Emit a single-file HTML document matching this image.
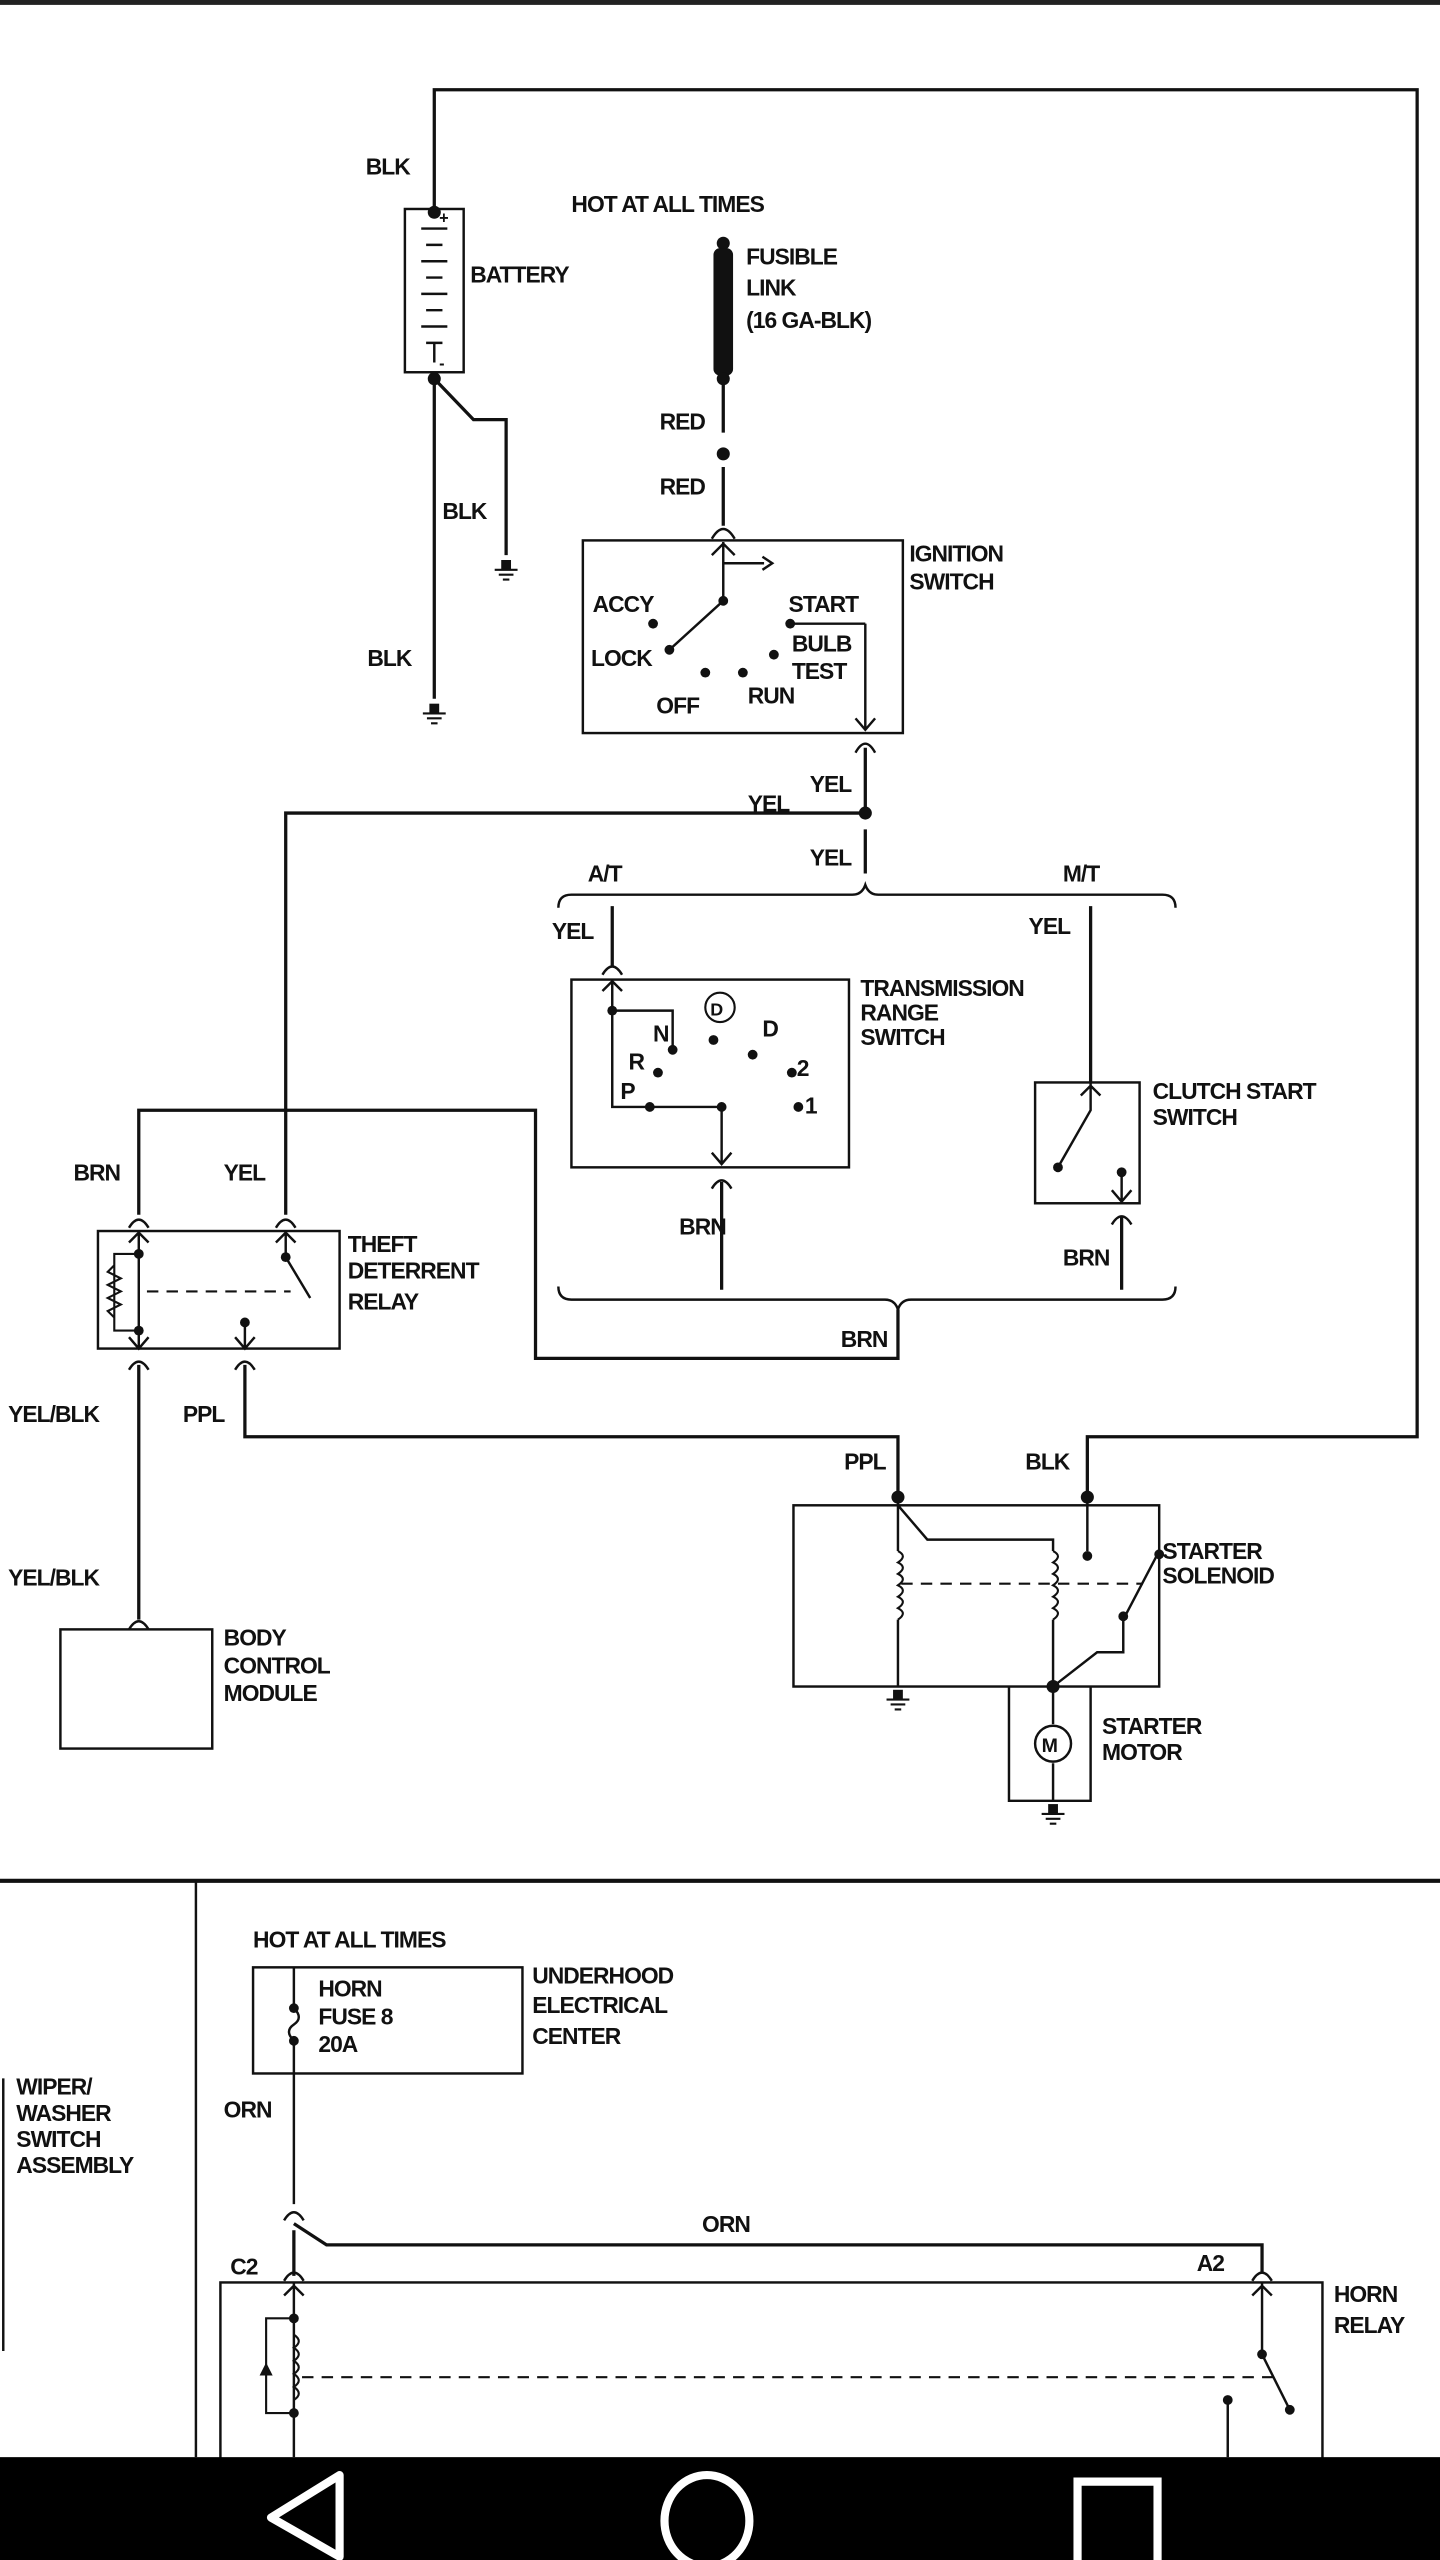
<!DOCTYPE html>
<html><head><meta charset="utf-8"><style>
html,body{margin:0;padding:0;background:#fff;width:1440px;height:2560px;overflow:hidden}
svg{display:block}
text{font-family:"Liberation Sans",sans-serif;font-weight:bold;font-size:14px;fill:#111;letter-spacing:-0.6px}
</style></head><body>
<svg width="1440" height="2560" viewBox="0 0 882 1568" preserveAspectRatio="none" xmlns="http://www.w3.org/2000/svg">
<defs>
<g id="gnd"><rect x="-3" y="-6" width="6" height="6" fill="#111"/><path d="M-7 0H7M-4.5 3H4.5M-2 6H2" stroke="#111" stroke-width="1.3"/></g>
</defs>
<rect x="0" y="0" width="882" height="3" fill="#222"/>
<g fill="none" stroke="#111" stroke-width="2">
<!-- top wire -->
<path d="M266 130V55H868V880H666V915"/>
<!-- battery -->
<rect x="248" y="128" width="36" height="100" stroke-width="1.5"/>
<path d="M258 140H274M261 150H271M258 160H274M261 170H271M258 180H274M261 190H271M258 200H274M261 210H271M266 210V222" stroke-width="1.5"/>
<path d="M266 232V428"/>
<path d="M266 232L290 257H310V340"/>
<!-- fusible -->
<path d="M443 232V265M443 286V322"/>
<path d="M436 330Q443 318 450 330" stroke-width="1.5"/>
<!-- ignition -->
<rect x="357" y="331" width="196" height="118" stroke-width="1.5"/>
<path d="M443 332V368L410 398M443 345H468M530 382H484M530 382V446M436 340L443 333L450 340M524 440L530 447L536 440" stroke-width="1.5"/>
<path d="M467 341L473 345L467 349" stroke-width="1.5"/>
<path d="M524 461Q530 450 536 461" stroke-width="1.5"/>
<path d="M530 458V498M530 508V535M530 498H175V744"/>
<!-- braces -->
<path d="M342 556Q342 548 350 548H522Q528 548 530 542Q532 548 538 548H712Q720 548 720 556" stroke-width="1.5"/>
<path d="M342 788Q342 796 350 796H542Q548 796 550 802Q552 796 558 796H712Q720 796 720 788" stroke-width="1.5"/>
<!-- AT -->
<path d="M375 555V592"/>
<path d="M369 597Q375 587 381 597" stroke-width="1.5"/>
<rect x="350" y="600" width="170" height="115" stroke-width="1.5"/>
<path d="M375 600V678H442V712M375 619H412V643M369 607L375 601L381 607M436 706L442 713L448 706" stroke-width="1.5"/>
<circle cx="441" cy="617" r="9" stroke-width="1.3"/>
<path d="M436 728Q442 718 448 728" stroke-width="1.5"/>
<path d="M442 724V790"/>
<!-- MT -->
<path d="M668 555V663"/>
<rect x="634" y="663" width="64" height="74" stroke-width="1.5"/>
<path d="M668 663V680L648 715M662 671L668 665L674 671M687 718V735M681 729L687 736L693 729" stroke-width="1.5"/>
<path d="M681 750Q687 740 693 750" stroke-width="1.5"/>
<path d="M687 745V790"/>
<!-- BRN loop -->
<path d="M550 802V832H328V680H85V744"/>
<!-- theft relay -->
<path d="M79 752Q85 742 91 752M169 752Q175 742 181 752" stroke-width="1.5"/>
<rect x="60" y="754" width="148" height="72" stroke-width="1.5"/>
<path d="M85 754V826M175 754V770L190 795M150 810V826M79 761L85 755L91 761M169 761L175 755L181 761M79 819L85 826L91 819M144 819L150 826L156 819" stroke-width="1.5"/>
<path d="M85 768H70V815H85M70 775L66 779L74 783L66 787L74 791L66 795L74 799L66 803L70 807" stroke-width="1.3"/>
<path d="M90 791H178" stroke-width="1.3" stroke-dasharray="7 5"/>
<path d="M79 839Q85 829 91 839M144 839Q150 829 156 839" stroke-width="1.5"/>
<path d="M85 836V992M150 836V880H550V915"/>
<path d="M79 998Q85 988 91 998" stroke-width="1.5"/>
<rect x="37" y="998" width="93" height="73" stroke-width="1.5"/>
<!-- solenoid -->
<rect x="486" y="922" width="224" height="111" stroke-width="1.5"/>
<path d="M550 915V950M550 992V1033M550 922L568 943H645V950M645 992V1033L672 1012H688V992M666 915V950M688 992L710 950" stroke-width="1.5"/>
<path d="M550 950Q556 953 550 957Q556 960 550 964Q556 967 550 971Q556 974 550 978Q556 981 550 985Q556 988 550 992M645 950Q651 953 645 957Q651 960 645 964Q651 967 645 971Q651 974 645 978Q651 981 645 985Q651 988 645 992" stroke-width="1.3"/>
<path d="M552 970H700" stroke-width="1.3" stroke-dasharray="7 5"/>
<path d="M618 1033V1103H668V1033M645 1033V1056M645 1080V1103" stroke-width="1.5"/>
<circle cx="645" cy="1068" r="11" stroke-width="1.5"/>
<!-- separator -->
<path d="M0 1152H882" stroke-width="2.5"/>
<path d="M120 1152V1505" stroke-width="1.5"/>
<path d="M2 1273V1440" stroke-width="1.5"/>
<!-- horn -->
<rect x="155" y="1205" width="165" height="65" stroke-width="1.5"/>
<path d="M180 1205V1230Q186 1236 180 1240Q174 1244 180 1250V1350" stroke-width="1.5"/>
<path d="M174 1360Q180 1350 186 1360M174 1397Q180 1387 186 1397M767 1397Q773 1387 779 1397" stroke-width="1.5"/>
<path d="M180 1362L200 1375H773V1392M180 1366V1394"/>
<rect x="135" y="1398" width="675" height="120" stroke-width="1.5"/>
<path d="M180 1398V1505M174 1406L180 1400L186 1406M773 1398V1442L790 1476M767 1406L773 1400L779 1406M752 1470V1505" stroke-width="1.5"/>
<path d="M180 1420H163V1478H180" stroke-width="1.3"/>
<path d="M180 1430Q186 1434 180 1438Q186 1442 180 1446Q186 1450 180 1454Q186 1458 180 1462Q186 1466 180 1470" stroke-width="1.3"/>
<path d="M185 1456H782" stroke-width="1.3" stroke-dasharray="7 5"/>
</g>
<g fill="#111">
<circle cx="266" cy="130" r="4"/><circle cx="266" cy="232" r="4"/>
<circle cx="443" cy="149" r="4"/><rect x="437" y="152" width="12" height="78" rx="4"/><circle cx="443" cy="232" r="4"/>
<circle cx="443" cy="278" r="4"/>
<circle cx="443" cy="368" r="3"/><circle cx="410" cy="398" r="3"/><circle cx="400" cy="382" r="3"/>
<circle cx="432" cy="412" r="3"/><circle cx="455" cy="412" r="3"/><circle cx="484" cy="382" r="3"/><circle cx="474" cy="401" r="3"/>
<circle cx="530" cy="498" r="4"/>
<circle cx="375" cy="619" r="3"/><circle cx="412" cy="643" r="3"/><circle cx="403" cy="657" r="3"/><circle cx="398" cy="678" r="3"/><circle cx="442" cy="678" r="3"/>
<circle cx="437" cy="637" r="3"/><circle cx="461" cy="646" r="3"/><circle cx="485" cy="657" r="3"/><circle cx="489" cy="678" r="3"/>
<circle cx="648" cy="715" r="3"/><circle cx="687" cy="718" r="3"/>
<circle cx="85" cy="768" r="3"/><circle cx="85" cy="815" r="3"/><circle cx="175" cy="770" r="3"/><circle cx="150" cy="810" r="3"/>
<circle cx="550" cy="917" r="4"/><circle cx="666" cy="917" r="4"/><circle cx="666" cy="953" r="3"/><circle cx="710" cy="952" r="3"/><circle cx="688" cy="990" r="3"/><circle cx="645" cy="1033" r="4"/>
<circle cx="180" cy="1230" r="3"/><circle cx="180" cy="1250" r="3"/><circle cx="180" cy="1420" r="3"/><circle cx="180" cy="1478" r="3"/>
<circle cx="773" cy="1442" r="3"/><circle cx="790" cy="1476" r="3"/><circle cx="752" cy="1470" r="3"/>
<path d="M159 1455L167 1455L163 1447Z"/>
</g>
<use href="#gnd" x="266" y="437"/><use href="#gnd" x="310" y="349"/><use href="#gnd" x="550" y="1041"/><use href="#gnd" x="645" y="1111"/>
<text x="224" y="107">BLK</text><text x="269" y="137" style="font-size:10px">+</text><text x="269" y="226" style="font-size:10px">-</text>
<text x="288" y="173">BATTERY</text><text x="271" y="318">BLK</text><text x="225" y="408">BLK</text>
<text x="350" y="130">HOT AT ALL TIMES</text>
<text x="457" y="162">FUSIBLE</text><text x="457" y="181">LINK</text><text x="457" y="201">(16 GA-BLK)</text>
<text x="404" y="263">RED</text><text x="404" y="303">RED</text>
<text x="557" y="344">IGNITION</text><text x="557" y="361">SWITCH</text>
<text x="363" y="375">ACCY</text><text x="362" y="408">LOCK</text><text x="483" y="375">START</text>
<text x="485" y="399">BULB</text><text x="485" y="416">TEST</text><text x="402" y="437">OFF</text><text x="458" y="431">RUN</text>
<text x="496" y="485">YEL</text><text x="458" y="497">YEL</text><text x="496" y="530">YEL</text>
<text x="360" y="540">A/T</text><text x="651" y="540">M/T</text>
<text x="338" y="575">YEL</text><text x="630" y="572">YEL</text>
<text x="435" y="622" style="font-size:11px">D</text>
<text x="400" y="638">N</text><text x="385" y="655">R</text><text x="380" y="673">P</text><text x="467" y="635">D</text><text x="488" y="659">2</text><text x="493" y="682">1</text>
<text x="527" y="610">TRANSMISSION</text><text x="527" y="625">RANGE</text><text x="527" y="640">SWITCH</text>
<text x="706" y="673">CLUTCH START</text><text x="706" y="689">SWITCH</text>
<text x="416" y="756">BRN</text><text x="651" y="775">BRN</text><text x="515" y="825">BRN</text>
<text x="45" y="723">BRN</text><text x="137" y="723">YEL</text>
<text x="213" y="767">THEFT</text><text x="213" y="783">DETERRENT</text><text x="213" y="802">RELAY</text>
<text x="5" y="871">YEL/BLK</text><text x="112" y="871">PPL</text><text x="5" y="971">YEL/BLK</text>
<text x="137" y="1008">BODY</text><text x="137" y="1025">CONTROL</text><text x="137" y="1042">MODULE</text>
<text x="517" y="900">PPL</text><text x="628" y="900">BLK</text>
<text x="712" y="955">STARTER</text><text x="712" y="970">SOLENOID</text>
<text x="638" y="1073" style="font-size:12px">M</text>
<text x="675" y="1062">STARTER</text><text x="675" y="1078">MOTOR</text>
<text x="155" y="1193">HOT AT ALL TIMES</text>
<text x="195" y="1223">HORN</text><text x="195" y="1240">FUSE 8</text><text x="195" y="1257">20A</text>
<text x="326" y="1215">UNDERHOOD</text><text x="326" y="1233">ELECTRICAL</text><text x="326" y="1252">CENTER</text>
<text x="10" y="1283">WIPER/</text><text x="10" y="1299">WASHER</text><text x="10" y="1315">SWITCH</text><text x="10" y="1331">ASSEMBLY</text>
<text x="137" y="1297">ORN</text><text x="430" y="1367">ORN</text><text x="141" y="1393">C2</text><text x="733" y="1391">A2</text>
<text x="817" y="1410">HORN</text><text x="817" y="1429">RELAY</text>
<rect x="0" y="1505" width="882" height="63" fill="#000"/>
<path d="M208 1516V1566L166 1542Z" fill="none" stroke="#fff" stroke-width="5" stroke-linejoin="round"/>
<ellipse cx="433" cy="1544" rx="26" ry="28" fill="none" stroke="#fff" stroke-width="5"/>
<path d="M660 1570V1520H709V1570" fill="none" stroke="#fff" stroke-width="5"/>
</svg>
</body></html>
